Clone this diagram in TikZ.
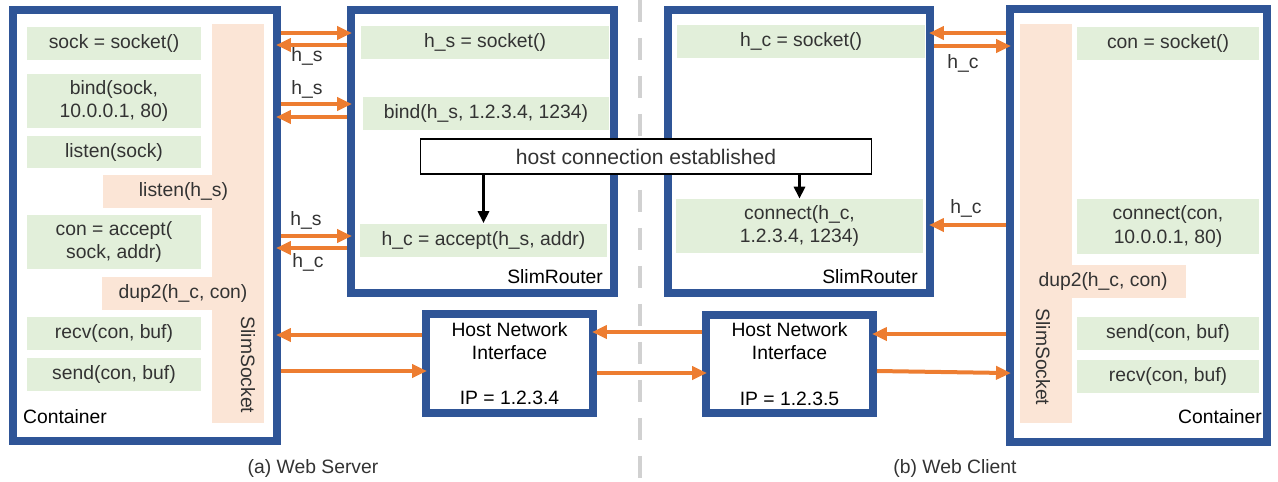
\documentclass[tikz,border=0pt]{standalone}
\usepackage{fontspec}
\setmainfont{Liberation Sans}
\usepackage{xcolor}
\usetikzlibrary{arrows.meta, positioning, calc}
\definecolor{frameblue}{HTML}{2F5597}
\definecolor{sockpink}{HTML}{FBE5D6}
\definecolor{callgreen}{HTML}{E2EFDA}
\definecolor{linkorange}{HTML}{ED7D31}
\definecolor{txtgray}{HTML}{333333}

\begin{document}
\begin{tikzpicture}[x=0.02cm, y=-0.02cm, >=Stealth,
  font=\fontsize{11}{13.2}\selectfont,
  box/.style={draw=frameblue, line width=0.16cm, fill=white, inner sep=0pt},
  call/.style={fill=callgreen, inner sep=0pt, text=txtgray, align=center, minimum height=0.66cm},
  slim/.style={fill=sockpink, inner sep=0pt, text=txtgray, minimum height=0.66cm},
  tag/.style={inner sep=1pt, text=black},
  hdl/.style={inner sep=1pt, text=txtgray},
  subcap/.style={inner sep=1pt, text=txtgray},
  link/.style={draw=linkorange, line width=0.08cm, -{Triangle[length=0.3cm, width=0.26cm]}, shorten >=-0.1cm},
  note/.style={draw=black, line width=0.6pt, fill=white, minimum width=9.04cm, minimum height=0.7cm,
    text=txtgray, font=\fontsize{12}{14}\selectfont},
  down/.style={line width=0.06cm, -{Triangle[length=0.24cm, width=0.22cm]}}]
  \useasboundingbox (0,0) rectangle (1278,481);

  % dashed divider between server and client
  \coordinate (divtop) at (640,0);
  \coordinate (divbot) at (640,481);
  \draw[black!18, line width=0.09cm, dash pattern=on 0.44cm off 0.32cm] (divtop) -- (divbot);

  % frames
  \node[box, minimum width=5.28cm, minimum height=8.62cm] (srvbox) at (145,225.5) {};
  \node[box, minimum width=5.26cm, minimum height=5.66cm] (srvrt) at (482.5,151.5) {};
  \node[box, minimum width=5.24cm, minimum height=5.66cm] (clirt) at (799,151.5) {};
  \node[box, minimum width=5.14cm, minimum height=8.66cm] (clibox) at (1138.5,225.5) {};
  \node[box, minimum width=3.34cm, minimum height=1.98cm, align=center] (srvnic) at (509.5,363.5)
    {Host Network\\Interface\\[0.44cm]IP = 1.2.3.4};
  \node[box, minimum width=3.34cm, minimum height=1.96cm, align=center] (clinic) at (789.5,364)
    {Host Network\\Interface\\[0.44cm]IP = 1.2.3.5};

  % web server container
  \node[slim, minimum width=1.04cm, minimum height=7.98cm] (srvsock) at (238,223.5) {};
  \node[slim, minimum width=3.22cm] (srvlisten) at (183.5,191) {listen(h\_s)};
  \node[slim, minimum width=3.24cm] (srvdup) at (183,293.5) {dup2(h\_c, con)};
  \node[tag, rotate=-90, text=txtgray] (srvsocklbl) at (248,365) {SlimSocket};
  \foreach \n/\y/\h/\t in {sock/43.5/0.66/{sock = socket()},
                           bind/101/1.08/{bind(sock,\\10.0.0.1, 80)},
                           listen/152/0.64/{listen(sock)},
                           accept/242/1.08/{con = accept(\\sock, addr)},
                           recv/333.5/0.66/{recv(con, buf)},
                           send/374.5/0.66/{send(con, buf)}} {
    \node[call, minimum width=3.48cm, minimum height=\h cm] (s\n) at (114,\y) {\t};
  }
  \node[tag, anchor=west] (srvlbl) at (21,417) {Container};

  % server side router
  \node[call, minimum width=4.96cm] (hsock) at (485,42) {h\_s = socket()};
  \node[call, minimum width=4.92cm] (hbind) at (486,113) {bind(h\_s, 1.2.3.4, 1234)};
  \node[call, minimum width=4.94cm] (haccept) at (483.5,240) {h\_c = accept(h\_s, addr)};
  \node[tag, anchor=east] (srvrtlbl) at (605,277) {SlimRouter};

  % client side router
  \node[call, minimum width=4.96cm] (hcsock) at (801,41.5) {h\_c = socket()};
  \node[call, minimum width=4.94cm, minimum height=1.08cm] (hconnect) at (799.5,226) {connect(h\_c,\\1.2.3.4, 1234)};
  \node[tag, anchor=east] (clirtlbl) at (920,277) {SlimRouter};

  % web client container
  \node[slim, minimum width=1.04cm, minimum height=7.98cm] (clisock) at (1046,223.5) {};
  \node[slim, minimum width=3.32cm] (clidup) at (1103,281.5) {dup2(h\_c, con)};
  \node[tag, rotate=-90, text=txtgray] (clisocklbl) at (1043,357) {SlimSocket};
  \foreach \n/\y/\h/\t in {socket/43.5/0.66/{con = socket()},
                           connect/226.5/1.1/{connect(con,\\10.0.0.1, 80)},
                           send/333.5/0.66/{send(con, buf)},
                           recv/376.5/0.66/{recv(con, buf)}} {
    \node[call, minimum width=3.64cm, minimum height=\h cm] (c\n) at (1168,\y) {\t};
  }
  \node[tag, anchor=east] (clilbl) at (1264,417) {Container};

  % host connection
  \node[note] (hostconn) at (646,156.5) {host connection established};
  \draw[down] (hostconn.south -| haccept.north) -- (haccept.north);
  \draw[down] (hostconn.south -| hconnect.north) -- (hconnect.north);

  % server <-> router
  \foreach \y in {33,104,236}
    \draw[link] (srvbox.east |- 0,\y) -- (srvrt.west |- 0,\y);
  \foreach \y in {45,117,248}
    \draw[link] (srvrt.west |- 0,\y) -- (srvbox.east |- 0,\y);
  \node[hdl] (hs1) at (307,56) {h\_s};
  \node[hdl] (hs2) at (307,89) {h\_s};
  \node[hdl] (hs3) at (306,220) {h\_s};
  \node[hdl] (hc1) at (308,262) {h\_c};

  % data path through the host network
  \draw[link] (srvnic.west |- 0,335) -- (srvbox.east |- 0,335);
  \draw[link] (srvbox.east |- 0,371) -- (srvnic.west |- 0,371);
  \draw[link] (clinic.west |- 0,332) -- (srvnic.east |- 0,332);
  \draw[link] (srvnic.east |- 0,373) -- (clinic.west |- 0,373);
  \draw[link] (clibox.west |- 0,334) -- (clinic.east |- 0,334);
  \draw[link] (clinic.east |- 0,371) -- (clibox.west |- 0,373);

  % client <-> router
  \draw[link] (clibox.west |- 0,33) -- (clirt.east |- 0,33);
  \draw[link] (clirt.east |- 0,46) -- (clibox.west |- 0,46);
  \draw[link] (clibox.west |- 0,225) -- (clirt.east |- 0,225);
  \node[hdl] (hc2) at (963,63) {h\_c};
  \node[hdl] (hc3) at (966,208) {h\_c};

  \node[subcap] (capa) at (313,468) {(a) Web Server};
  \node[subcap] (capb) at (955,468) {(b) Web Client};
\end{tikzpicture}
\end{document}
